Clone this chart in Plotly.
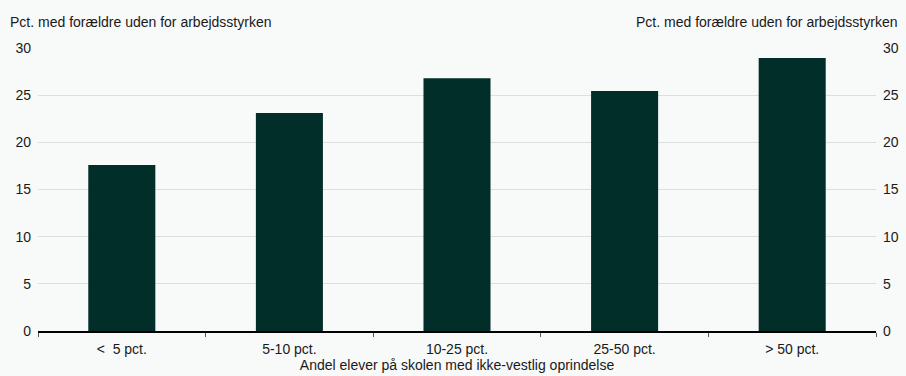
import plotly.graph_objects as go

categories = ["<\u00a0 5 pct.", "5-10 pct.", "10-25 pct.", "25-50 pct.", "> 50 pct."]
values = [17.6, 23.1, 26.8, 25.45, 28.95]
y_ticks = [0, 5, 10, 15, 20, 25, 30]
axis_title_left = "Pct. med forældre uden for arbejdsstyrken"
axis_title_right = "Pct. med forældre uden for arbejdsstyrken"
x_title = "Andel elever på skolen med ikke-vestlig oprindelse"

BG = "#f8f9f9"
BAR = "#022e2a"
FONT = "Liberation Sans, Arial, sans-serif"
FS = 14

fig = go.Figure()
fig.add_trace(go.Bar(x=categories, y=values, marker=dict(color=BAR, line=dict(width=0)),
                     width=0.4, yaxis="y", showlegend=False, hoverinfo="x+y"))
fig.add_trace(go.Scatter(x=categories, y=values, yaxis="y2", mode="markers",
                         marker=dict(opacity=0), showlegend=False, hoverinfo="skip"))

fig.update_layout(
    width=906, height=376,
    margin=dict(l=38, r=30, t=48, b=45, autoexpand=False),
    paper_bgcolor=BG, plot_bgcolor=BG,
    font=dict(family=FONT, size=FS, color="#1a1a1a"),
    xaxis=dict(showline=True, linecolor="#000000", linewidth=1.5, automargin=False,
               ticks="outside", tickson="boundaries", ticklen=4, tickcolor="#555555",
               showgrid=False, tickfont=dict(size=FS), ticklabelstandoff=4,
               title=dict(text=x_title, font=dict(size=FS), standoff=2)),
    yaxis=dict(range=[0, 30], tickvals=y_ticks, showgrid=True, gridcolor="#dcdfdf",
               gridwidth=1, zeroline=False, showline=False, ticks="", ticklabelstandoff=6,
               tickfont=dict(size=FS), automargin=False),
    yaxis2=dict(range=[0, 30], tickvals=y_ticks, overlaying="y", side="right",
                showgrid=False, zeroline=False, showline=False, ticks="", ticklabelstandoff=6,
                tickfont=dict(size=FS), automargin=False),
    annotations=[
        dict(text=axis_title_left, xref="paper", yref="paper", x=0, y=1, xshift=-30, yshift=16,
             xanchor="left", yanchor="bottom", showarrow=False, font=dict(size=FS)),
        dict(text=axis_title_right, xref="paper", yref="paper", x=1, y=1, xshift=23, yshift=16,
             xanchor="right", yanchor="bottom", showarrow=False, font=dict(size=FS)),
    ],
)

fig.write_html("out.html", config={"displayModeBar": False},
               post_script="document.body.style.margin='0px';document.body.style.padding='0px';")
